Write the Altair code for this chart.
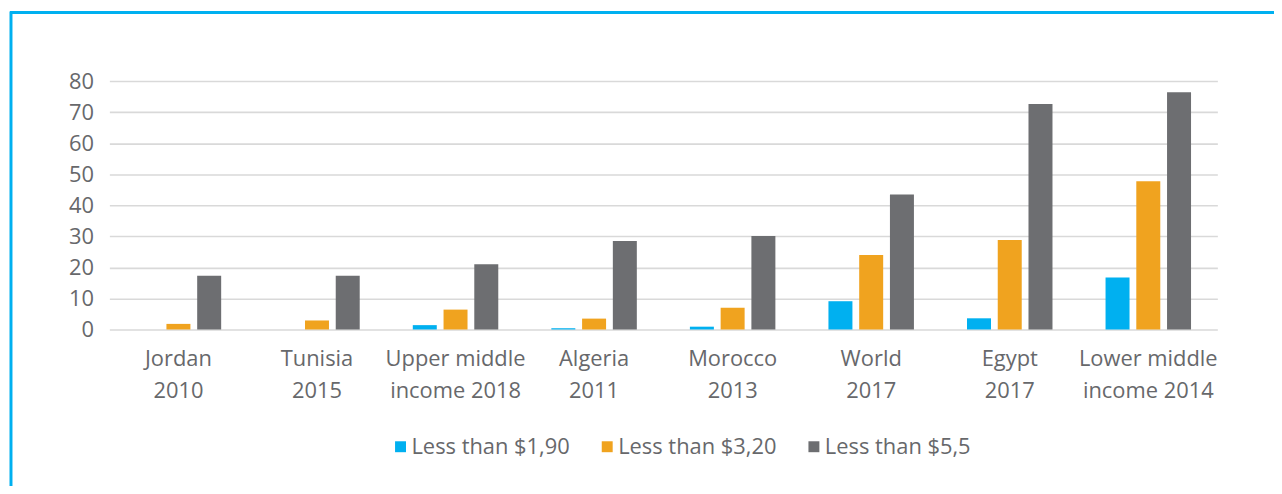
import altair as alt
import pandas as pd

categories = ["Jordan\n2010", "Tunisia\n2015", "Upper middle\nincome 2018", "Algeria\n2011",
              "Morocco\n2013", "World\n2017", "Egypt\n2017", "Lower middle\nincome 2014"]
series = ["Less than $1,90", "Less than $3,20", "Less than $5,5"]
less_190 = [0.0, 0.0, 1.4, 0.4, 0.9, 9.1, 3.6, 16.7]
less_320 = [1.8, 2.9, 6.4, 3.5, 7.0, 24.0, 28.8, 47.7]
less_55 = [17.3, 17.3, 21.0, 28.5, 30.1, 43.5, 72.6, 76.4]
colors = ["#00b0f0", "#f0a31f", "#6d6e71"]
y_ticks = [0, 10, 20, 30, 40, 50, 60, 70, 80]

rows = []
for s, vals in zip(series, [less_190, less_320, less_55]):
    for c, v in zip(categories, vals):
        rows.append({"category": c, "series": s, "value": v})
df = pd.DataFrame(rows)

FONT = "Open Sans"
TXT = "#67686b"

bars = alt.Chart(df).mark_bar().encode(
    x=alt.X("category:N", sort=categories, title=None,
            scale=alt.Scale(paddingInner=0.383, paddingOuter=0.19),
            axis=alt.Axis(labelExpr="split(datum.label, '\\n')", labelAngle=0,
                          labelFont=FONT, labelFontSize=22, labelColor=TXT,
                          labelLineHeight=32, labelPadding=19,
                          domain=False, ticks=False, grid=False)),
    xOffset=alt.XOffset("series:N", sort=series,
                        scale=alt.Scale(paddingInner=0.22)),
    y=alt.Y("value:Q", title=None,
            scale=alt.Scale(domain=[0, 80], nice=False),
            axis=alt.Axis(values=y_ticks, labelFont=FONT, labelFontSize=22,
                          labelColor=TXT, labelPadding=16, domain=False,
                          ticks=False, grid=True, gridColor="#d9d9d9",
                          gridWidth=1.6)),
    color=alt.Color("series:N", sort=series,
                    scale=alt.Scale(domain=series, range=colors),
                    legend=alt.Legend(title=None, orient="none", direction="horizontal",
                                      legendX=282, legendY=357,
                                      symbolType="square", symbolSize=121,
                                      symbolStrokeWidth=0, labelOffset=0,
                                      columnPadding=26, labelFont=FONT,
                                      labelFontSize=22, labelColor=TXT)),
)

border_data = alt.Data(values=[{"a": 1}])
top_line = alt.Chart(border_data).mark_rule(color="#00b0f0", strokeWidth=3).encode(
    x=alt.value(-100), x2=alt.value(1250), y=alt.value(-69))
left_line = alt.Chart(border_data).mark_rule(color="#00b0f0", strokeWidth=3).encode(
    x=alt.value(-99), y=alt.value(-70), y2=alt.value(420))

chart = alt.layer(bars, top_line, left_line).properties(
    width=1115, height=250,
    background="white",
    autosize=alt.AutoSizeParams(type="none"),
    padding={"left": 102, "top": 72, "right": 57, "bottom": 156},
).configure_view(strokeWidth=0, stroke="transparent")

chart.save("out.html", embed_options={"renderer": "svg", "actions": False})
